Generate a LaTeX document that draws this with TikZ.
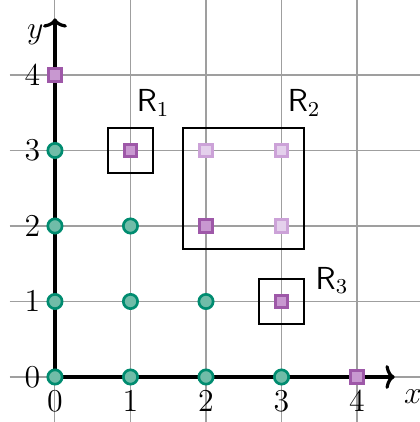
\documentclass[tikz,border=0pt]{standalone}
\usepackage{amsmath,amssymb}
\usepackage{tikz}
\usetikzlibrary{arrows.meta,positioning}
\definecolor{ptdraw}{RGB}{0,140,112}
\definecolor{ptfill}{RGB}{112,188,168}
\definecolor{sqdraw}{RGB}{158,88,168}
\definecolor{sqfill}{RGB}{200,152,208}
\definecolor{lsqdraw}{RGB}{204,162,216}
\definecolor{lsqfill}{RGB}{228,208,236}

\begin{document}
\begin{tikzpicture}[
  dot/.style={circle, draw=ptdraw, fill=ptfill, line width=1pt, inner sep=0pt, minimum size=0.19cm},
  sqr/.style={rectangle, draw=sqdraw, fill=sqfill, line width=1pt, inner sep=0pt, minimum size=0.165cm},
  lsqr/.style={rectangle, draw=lsqdraw, fill=lsqfill, line width=1pt, inner sep=0pt, minimum size=0.165cm},
  box/.style={draw=black, thick},
  lbl/.style={font=\large}
]
\useasboundingbox (-0.728,-0.596) rectangle (4.834,4.993);
% Grid
\draw[gray!75, line width=0.4pt] (-0.6,-0.6) grid (4.834,4.993);

% Axes
\coordinate (o) at (0,0);
\coordinate (xend) at (4.5,0);
\coordinate (yend) at (0,4.75);
\draw[line width=1.2pt, -{To[length=3.5pt,width=9pt]}] (o) -- (xend);
\draw[line width=1.2pt, -{To[length=3.5pt,width=9pt]}] (o) -- (yend);
\node[lbl] (xlab) at (4.74,-0.26) {$x$};
\node[lbl] (ylab) at (-0.26,4.53) {$y$};

% Tick labels
\foreach \i in {0,...,4} {
  \node[lbl] (xt\i) at (\i,-0.32) {$\i$};
  \node[lbl] (yt\i) at (-0.3,\i) {$\i$};
}

% Regions
\draw[box] (0.7,2.7) rectangle (1.3,3.3);
\draw[box] (1.7,1.7) rectangle (3.3,3.3);
\draw[box] (2.7,0.7) rectangle (3.3,1.3);
\node[lbl] (r1) at (1.3,3.63) {$\mathsf{R}_1$};
\node[lbl] (r2) at (3.3,3.63) {$\mathsf{R}_2$};
\node[lbl] (r3) at (3.67,1.28) {$\mathsf{R}_3$};

% Points below the staircase
\foreach \p/\q in {0/0,1/0,2/0,3/0,0/1,1/1,2/1,0/2,1/2,0/3}
  \node[dot] (d\p\q) at (\p,\q) {};

% Staircase corners
\foreach \p/\q in {0/4,1/3,2/2,3/1,4/0}
  \node[sqr] (s\p\q) at (\p,\q) {};
\foreach \p/\q in {2/3,3/3,3/2}
  \node[lsqr] (l\p\q) at (\p,\q) {};
\end{tikzpicture}
\end{document}
